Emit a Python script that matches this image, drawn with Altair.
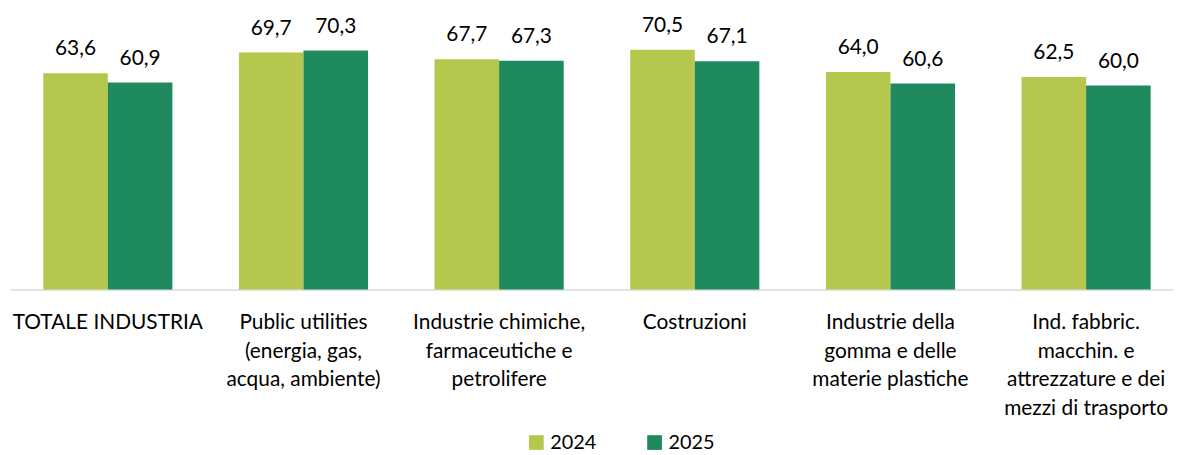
import altair as alt
import pandas as pd

categories = [
    "TOTALE INDUSTRIA",
    "Public utilities|(energia, gas,|acqua, ambiente)",
    "Industrie chimiche,|farmaceutiche e|petrolifere",
    "Costruzioni",
    "Industrie della|gomma e delle|materie plastiche",
    "Ind. fabbric.|macchin. e|attrezzature e dei|mezzi di trasporto",
]
series = ["2024", "2025"]
values_2024 = [63.6, 69.7, 67.7, 70.5, 64.0, 62.5]
values_2025 = [60.9, 70.3, 67.3, 67.1, 60.6, 60.0]
colors = ["#B5C84D", "#1F8A5D"]

rows = []
for c, v1, v2 in zip(categories, values_2024, values_2025):
    rows.append({"cat": c, "anno": "2024", "val": v1})
    rows.append({"cat": c, "anno": "2025", "val": v2})
df = pd.DataFrame(rows)
df["label"] = df["val"].map(lambda v: f"{v:.1f}".replace(".", ","))

FONT = "Lato"

x = alt.X("cat:N", sort=categories, title=None,
          scale=alt.Scale(paddingInner=0.34, paddingOuter=0.17, range=[0, 1182]),
          axis=alt.Axis(labelExpr="split(datum.label, '|')", labelAngle=0,
                        labelFontSize=21, labelFont=FONT, labelColor="#000000",
                        labelLineHeight=29, labelPadding=22, labelBaseline="top",
                        domainColor="#D9D9D9", domainWidth=1.5, ticks=False,
                        labelLimit=300, labelBound=False, labelOverlap=False))
y = alt.Y("val:Q", axis=None, scale=alt.Scale(domain=[0, 80]))
xo = alt.XOffset("anno:N", sort=series)
color = alt.Color("anno:N", sort=series, title=None,
                  scale=alt.Scale(domain=series, range=colors),
                  legend=alt.Legend(orient="none", legendX=520, legendY=418,
                                    direction="horizontal", symbolType="square",
                                    symbolSize=220, symbolStrokeWidth=0,
                                    labelFontSize=20, labelFont=FONT,
                                    labelColor="#000000", columnPadding=48,
                                    labelOffset=4))

bars = alt.Chart(df).mark_bar().encode(x=x, y=y, xOffset=xo, color=color)
text = alt.Chart(df).mark_text(dy=-18, fontSize=21, font=FONT, color="#000000",
                               baseline="alphabetic").encode(
    x=x, y=y, xOffset=xo, text="label:N")

chart = (bars + text).properties(
    width=1171, height=274,
    autosize=alt.AutoSizeParams(type="none"),
    padding={"left": 2, "top": 8, "right": 0, "bottom": 165},
).configure_view(stroke=None)

chart.save("out.html", embed_options={"renderer": "svg", "actions": False})
